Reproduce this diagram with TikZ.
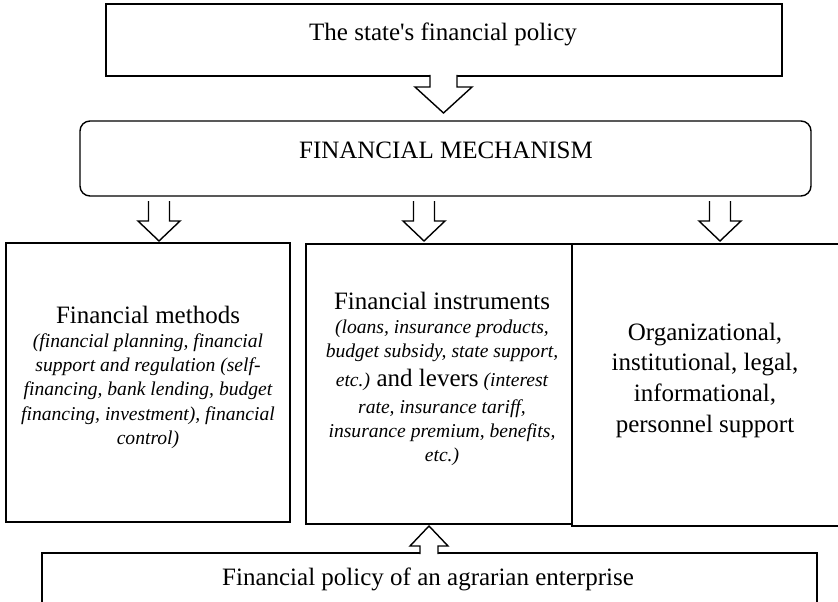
\documentclass[tikz,border=0pt]{standalone}
\usepackage{fontspec}
\setmainfont{Liberation Serif}[Ligatures=TeXOff]
\newcommand\mainf{\fontsize{25}{30.8}\selectfont\spaceskip=0pt\xspaceskip=0pt\relax}
\newcommand\itf{\fontsize{19.6}{24.3}\selectfont\itshape\spaceskip=0pt\xspaceskip=0pt\relax}
% cx, y tail, y head base, y tip, shaft half width, head half width
\newcommand\BlockArrow[6]{%
  \fill[white] (#1-#5,#2) -- (#1-#5,#3) -- (#1-#6,#3) -- (#1,#4) -- (#1+#6,#3) -- (#1+#5,#3) -- (#1+#5,#2) -- cycle;
  \draw[boxline] (#1-#5,#2) -- (#1-#5,#3) -- (#1-#6,#3) -- (#1,#4) -- (#1+#6,#3) -- (#1+#5,#3) -- (#1+#5,#2);
}
\tikzset{
  boxline/.style={draw=black, line width=1.4pt, line join=miter},
  txt/.style={inner sep=0pt, align=flush center, text=black},
}
\begin{document}
\begin{tikzpicture}[x=1pt, y=-1pt]
\useasboundingbox (0,0) rectangle (838,602);
\clip (0,0) rectangle (838,602);
\fill[white] (0,0) rectangle (838,602);

% boxes
\draw[boxline] (106,4) rectangle (782,76);
\draw[boxline, rounded corners=10pt] (80,121) rectangle (811,196);
\draw[boxline] (6,243) rectangle (290,522);
\draw[boxline] (306,244) rectangle (572,524);
\draw[boxline] (572,244) rectangle (845,526);
\draw[boxline] (42,553) rectangle (817,620);

% block arrows
\BlockArrow{443.5}{75}{87}{113}{13.5}{28.5}
\BlockArrow{159}{201}{221}{241}{10.5}{21}
\BlockArrow{424}{201}{221}{241}{10.5}{21}
\BlockArrow{720}{201}{221}{241}{10.5}{21}
\BlockArrow{429}{554}{546}{526}{9}{19}

% texts
\node[txt, anchor=base] (state) at (443,41) {\mainf The state's financial policy};
\node[txt, anchor=base] (mech) at (446,158) {\mainf FINANCIAL MECHANISM};
\node[txt, anchor=base, text width=320pt] (methods) at (148,323)
  {\mainf Financial methods\\
   \itf (financial planning, financial\\
   support and regulation (self-\\
   financing, bank lending, budget\\
   financing, investment), financial\\
   control)\par};
\node[txt, anchor=base, text width=320pt] (instr) at (442,309)
  {\mainf Financial instruments\\
   \itf (loans, insurance products,\\
   budget subsidy, state support,\\[5pt]
   etc.) {\mainf\upshape and levers} (interest\\[2pt]
   rate, insurance tariff,\\
   insurance premium, benefits,\\
   etc.)\par};
\node[txt, anchor=base, text width=320pt] (support) at (705,340)
  {\mainf Organizational,\\
   institutional, legal,\\
   informational,\\
   personnel support\par};
\node[txt, anchor=base] (agr) at (428,585) {\mainf Financial policy of an agrarian enterprise};
\end{tikzpicture}
\end{document}
